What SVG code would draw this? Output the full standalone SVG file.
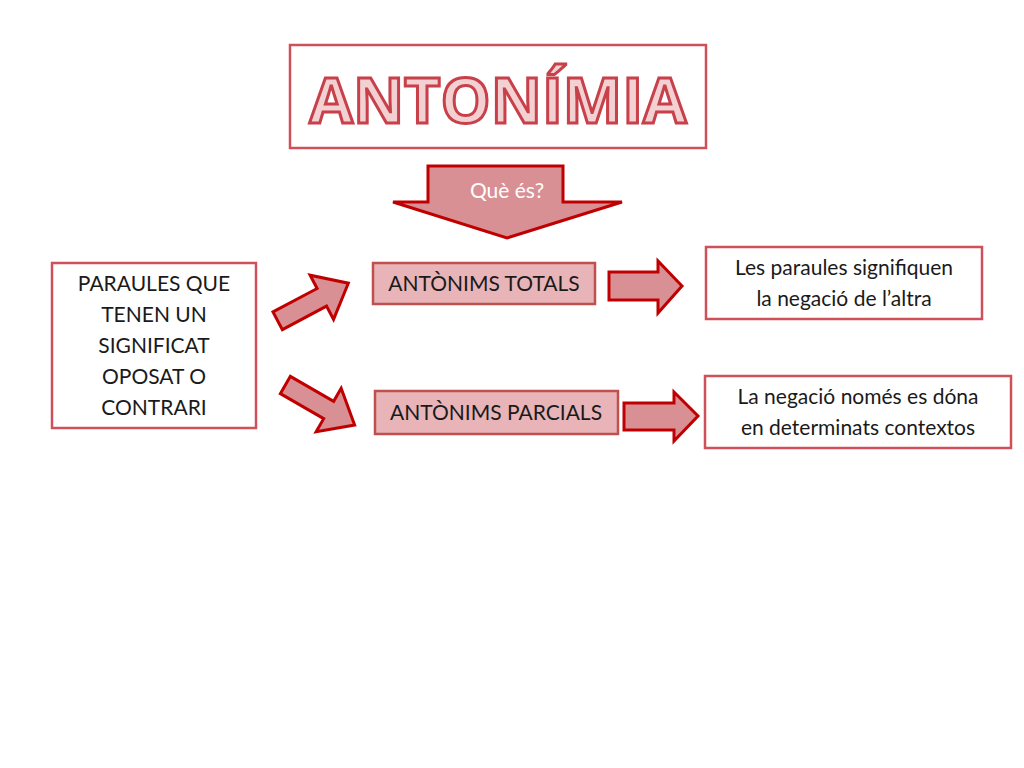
<svg xmlns="http://www.w3.org/2000/svg" width="1024" height="768" viewBox="0 0 1024 768">
<style>
.box{fill:#fff;stroke:#d0505a;stroke-width:2.5}
.pbox{fill:#e8b4b8;stroke:#c0504d;stroke-width:2.5}
.arr{fill:#d99094;stroke:#c00000;stroke-width:3;stroke-linejoin:miter}
.t{font-family:Lato,"Open Sans","Liberation Sans",sans-serif;fill:#1a1a1a;text-anchor:middle;font-size:21px}
</style>
<defs><path id="a" d="M-40,-10 L10,-10 L10,-25 L40,0 L10,25 L10,10 L-40,10 Z"/></defs>
<rect width="1024" height="768" fill="#fff"/>
<g id="title"><rect class="box" x="290" y="45" width="416" height="103"/>
<text x="498" y="123" style="font-family:'Open Sans','Liberation Sans',sans-serif;font-weight:bold;font-size:63px;fill:#f3d0d2;stroke:#c8404a;stroke-width:3;text-anchor:middle">ANTONÍMIA</text></g>
<g id="que"><path class="arr" d="M428,166 L563,166 L563,202 L622,202 L507,238 L393,202 L428,202 Z"/>
<text class="t" x="507" y="198" style="fill:#fff">Què és?</text></g>
<g id="left"><rect class="box" x="52" y="263" width="204" height="165"/>
<text class="t"><tspan x="154" y="291">PARAULES QUE</tspan><tspan x="154" y="322">TENEN UN</tspan><tspan x="154" y="353">SIGNIFICAT</tspan><tspan x="154" y="384">OPOSAT O</tspan><tspan x="154" y="415">CONTRARI</tspan></text></g>
<g id="totals"><rect class="pbox" x="373" y="263" width="222" height="41"/><text class="t" x="484" y="291">ANTÒNIMS TOTALS</text></g>
<g id="parcials"><rect class="pbox" x="375" y="391" width="243" height="43"/><text class="t" x="496" y="420">ANTÒNIMS PARCIALS</text></g>
<g id="def1"><rect class="box" x="706" y="247" width="276" height="72"/><text class="t"><tspan x="844" y="275">Les paraules signifiquen</tspan><tspan x="844" y="306">la negació de l’altra</tspan></text></g>
<g id="def2"><rect class="box" x="705" y="376" width="306" height="72"/><text class="t"><tspan x="858" y="404">La negació només es dóna</tspan><tspan x="858" y="435">en determinats contextos</tspan></text></g>
<g id="connectors">
<use href="#a" class="arr" transform="translate(313,302) rotate(-28)"/>
<use href="#a" class="arr" transform="translate(320,405) rotate(30)"/>
<path class="arr" d="M609,272 L658,272 L658,261 L682,286 L658,313 L658,300 L609,300 Z"/>
<path class="arr" d="M624,403 L674,403 L674,392 L698,416 L674,441 L674,430 L624,430 Z"/>
</g>
</svg>
